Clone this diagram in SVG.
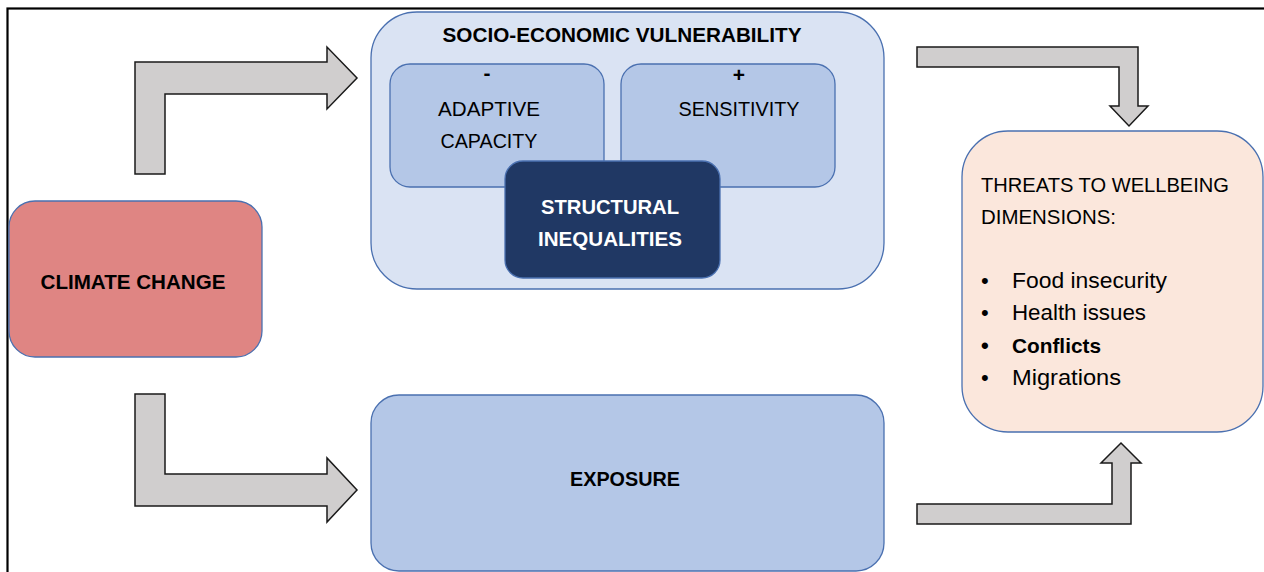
<svg xmlns="http://www.w3.org/2000/svg" width="1264" height="572" viewBox="0 0 1264 572">
<style>
text{font-family:"Liberation Sans",Arial,sans-serif;font-size:21px;fill:#000}
.b{font-weight:bold}
.w{fill:#fff}
.box{stroke:#4a70b0;stroke-width:1.3}
.arr{fill:#d0cece;stroke:#1a1a1a;stroke-width:1.5;stroke-linejoin:miter}
.li{font-size:22px}
</style>
<rect width="1264" height="572" fill="#fff"/>
<rect x="7.5" y="8.5" width="1280" height="600" fill="none" stroke="#000" stroke-width="2.2"/>
<g id="connectors">
<path class="arr" d="M135,174 L135,62 L327,62 L327,47 L357,78 L327,109 L327,94 L165,94 L165,174 Z"/>
<path class="arr" d="M135,394 L165,394 L165,474 L327,474 L327,458 L357,490 L327,522 L327,506 L135,506 Z"/>
<path class="arr" d="M917,47 L1138,47 L1138,106 L1148,106 L1129,126 L1110,106 L1119,106 L1119,67 L917,67 Z"/>
<path class="arr" d="M917,504 L1112,504 L1112,463 L1101,463 L1121,443 L1141,463 L1131,463 L1131,524 L917,524 Z"/>
</g>
<g id="climate-change">
<rect class="box" x="9" y="201" width="253" height="156" rx="26" fill="#df8583"/>
<text class="b" x="133" y="289" text-anchor="middle" textLength="185" lengthAdjust="spacingAndGlyphs">CLIMATE CHANGE</text>
</g>
<g id="socio-economic-vulnerability">
<rect class="box" x="371" y="12" width="513" height="277" rx="46" fill="#dae3f3"/>
<text class="b" x="622" y="42" text-anchor="middle" textLength="359" lengthAdjust="spacingAndGlyphs">SOCIO-ECONOMIC VULNERABILITY</text>
</g>
<g id="adaptive-capacity">
<rect class="box" x="390" y="64" width="214" height="123" rx="20" fill="#b4c7e7"/>
<text class="b" x="487" y="80" text-anchor="middle">-</text>
<text x="489" y="116" text-anchor="middle" textLength="102" lengthAdjust="spacingAndGlyphs">ADAPTIVE</text>
<text x="489" y="148" text-anchor="middle" textLength="97" lengthAdjust="spacingAndGlyphs">CAPACITY</text>
</g>
<g id="sensitivity">
<rect class="box" x="621" y="64" width="214" height="123" rx="20" fill="#b4c7e7"/>
<text class="b" x="739" y="82" text-anchor="middle">+</text>
<text x="739" y="116" text-anchor="middle" textLength="121" lengthAdjust="spacingAndGlyphs">SENSITIVITY</text>
</g>
<g id="structural-inequalities">
<rect class="box" x="505" y="161" width="215" height="117" rx="18" fill="#203864"/>
<text class="b w" x="610" y="214" text-anchor="middle" textLength="138" lengthAdjust="spacingAndGlyphs">STRUCTURAL</text>
<text class="b w" x="610" y="246" text-anchor="middle" textLength="144" lengthAdjust="spacingAndGlyphs">INEQUALITIES</text>
</g>
<g id="exposure">
<rect class="box" x="371" y="395" width="513" height="176" rx="28" fill="#b4c7e7"/>
<text class="b" x="625" y="486" text-anchor="middle" textLength="110" lengthAdjust="spacingAndGlyphs">EXPOSURE</text>
</g>
<g id="threats">
<rect class="box" x="962" y="131" width="301" height="301" rx="46" fill="#fbe7dc"/>
<text x="981" y="192" textLength="248" lengthAdjust="spacingAndGlyphs">THREATS TO WELLBEING</text>
<text x="981" y="224" textLength="135" lengthAdjust="spacingAndGlyphs">DIMENSIONS:</text>
<text class="li" x="981" y="288">•</text>
<text class="li" x="1012" y="288" textLength="155" lengthAdjust="spacingAndGlyphs">Food insecurity</text>
<text class="li" x="981" y="320">•</text>
<text class="li" x="1012" y="320" textLength="134" lengthAdjust="spacingAndGlyphs">Health issues</text>
<text class="li b" x="981" y="353">•</text>
<text class="b" x="1012" y="353" textLength="89" lengthAdjust="spacingAndGlyphs" style="font-size:21px">Conflicts</text>
<text class="li" x="981" y="385">•</text>
<text class="li" x="1012" y="385" textLength="109" lengthAdjust="spacingAndGlyphs">Migrations</text>
</g>
</svg>
